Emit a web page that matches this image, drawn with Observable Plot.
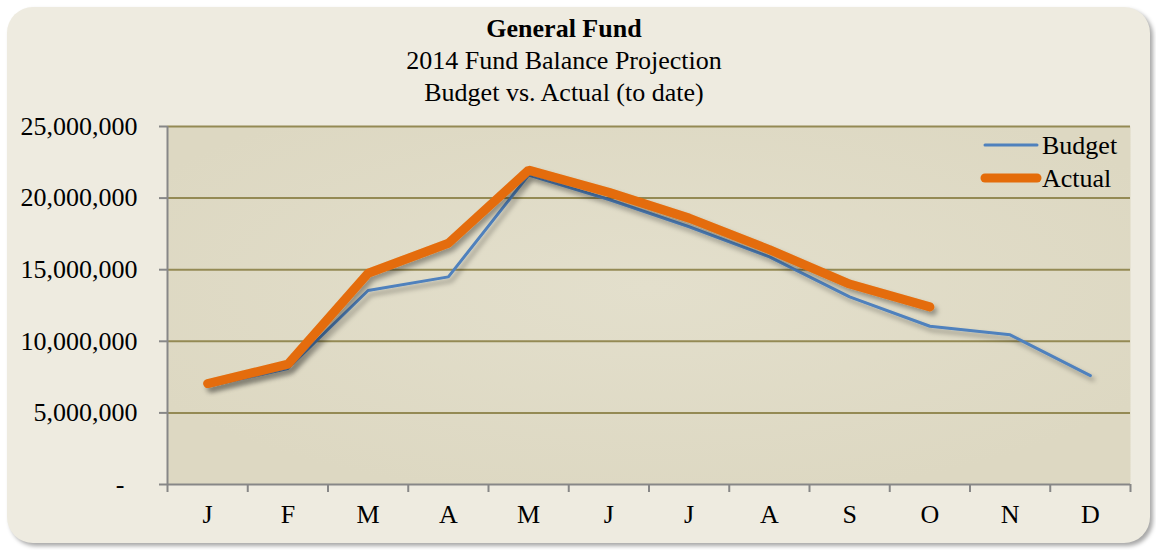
<!DOCTYPE html>
<html>
<head>
<meta charset="utf-8">
<script src="https://cdn.jsdelivr.net/npm/d3@7"></script>
<script src="https://cdn.jsdelivr.net/npm/@observablehq/plot@0.6"></script>
<style>
  html, body { margin: 0; padding: 0; background: #ffffff; }
  body { width: 1156px; height: 550px; position: relative; overflow: hidden; font-family: "Liberation Serif", "Times New Roman", serif; }
  #card { position: absolute; left: 7px; top: 7px; width: 1143px; height: 536px; border-radius: 26px; background: #eeebe0; box-shadow: 3px 3px 4px rgba(0,0,0,0.35); }
  #title { position: absolute; left: 0; top: 12.5px; width: 1128px; text-align: center; font-size: 26px; line-height: 32px; color: #000; }
  #title .main { font-weight: bold; }
  #chart { position: absolute; left: 0; top: 110px; }
  #legend { position: absolute; left: 975px; top: 128px; }
</style>
</head>
<body>
<div id="card"></div>
<div id="title">
  <div class="main">General Fund</div>
  <div>2014 Fund Balance Projection</div>
  <div>Budget vs. Actual (to date)</div>
</div>
<div id="chart"></div>
<div id="legend"></div>
<script>
// ---- data ----
const months = ["J","F","M","A","M","J","J","A","S","O","N","D"];
const budget = [6850000, 8100000, 13550000, 14500000, 21600000, 19900000, 18000000, 15900000, 13100000, 11050000, 10450000, 7600000];
const actual = [7050000, 8400000, 14750000, 16850000, 21950000, 20400000, 18600000, 16400000, 14000000, 12400000];
const yTicks = [0, 5000000, 10000000, 15000000, 20000000, 25000000];
const gridValues = [5000000, 10000000, 15000000, 20000000, 25000000];
const seriesNames = ["Budget", "Actual"];
const seriesColors = ["#4f81bd", "#e46c0a"];

const idx = months.map((_, i) => i);
const boundaries = d3.range(months.length + 1).map(i => i - 0.5);
const budgetData = budget.map((v, i) => ({i, v}));
const actualData = actual.map((v, i) => ({i, v}));
const fmt = d3.format(",");

const plot = Plot.plot({
  width: 1156,
  height: 440,
  marginLeft: 167,
  marginRight: 26,
  marginTop: 16,
  marginBottom: 66,
  x: {type: "linear", domain: [-0.5, months.length - 0.5], axis: null},
  y: {domain: [0, 25000000], axis: null},
  style: {background: "transparent", fontFamily: "'Liberation Serif', 'Times New Roman', serif", fontSize: "26px", color: "#000", overflow: "visible"},
  marks: [
    Plot.frame({fill: "url(#plotbg)", stroke: null}),
    Plot.ruleY(gridValues, {stroke: "#948a54", strokeWidth: 2}),
    Plot.ruleY([0], {stroke: "#878787", strokeWidth: 2}),
    Plot.ruleX([-0.5], {stroke: "#878787", strokeWidth: 2}),
    Plot.axisY({ticks: yTicks, tickSize: 8, tickPadding: 22, label: null,
      tickFormat: d => d === 0 ? "-\u2002" : fmt(d),
      stroke: "#878787", strokeWidth: 2, fill: "#000", fontSize: 26}),
    Plot.axisX({ticks: boundaries, tickSize: 8, label: null, tickFormat: () => "",
      stroke: "#878787", strokeWidth: 2}),
    Plot.axisX({ticks: idx, tickSize: 0, tickPadding: 20, label: null,
      tickFormat: i => months[i], fill: "#000", fontSize: 26}),
    Plot.line(budgetData, {x: "i", y: "v", stroke: seriesColors[0], strokeWidth: 3, strokeLinejoin: "miter", strokeLinecap: "round"}),
    Plot.line(actualData, {x: "i", y: "v", stroke: seriesColors[1], strokeWidth: 9, strokeLinejoin: "miter", strokeLinecap: "round"})
  ]
});

// gradient + shadow defs
const svg = d3.select(plot);
const defs = svg.insert("defs", ":first-child");
const g = defs.append("radialGradient").attr("id", "plotbg").attr("cx", "50%").attr("cy", "45%").attr("r", "60%");
g.append("stop").attr("offset", "0%").attr("stop-color", "#e3dfcc");
g.append("stop").attr("offset", "100%").attr("stop-color", "#ddd8c2");
const f = defs.append("filter").attr("id", "shadow").attr("x", "-10%").attr("y", "-10%").attr("width", "120%").attr("height", "130%");
f.append("feDropShadow").attr("dx", 3).attr("dy", 4).attr("stdDeviation", 2.5).attr("flood-color", "#000").attr("flood-opacity", 0.35);
svg.selectAll("g[aria-label='line']").attr("filter", "url(#shadow)");

document.getElementById("chart").appendChild(plot);

// legend
const lg = d3.select("#legend").append("svg").attr("width", 170).attr("height", 70);
seriesNames.forEach((name, k) => {
  const cy = 17 + k * 33;
  lg.append("line").attr("x1", 10).attr("x2", 62).attr("y1", cy).attr("y2", cy)
    .attr("stroke", seriesColors[k]).attr("stroke-width", k === 0 ? 3 : 9).attr("stroke-linecap", "round");
  lg.append("text").attr("x", 67).attr("y", cy + 9).text(name)
    .attr("font-family", "'Liberation Serif', 'Times New Roman', serif").attr("font-size", 26).attr("fill", "#000");
});
</script>
</body>
</html>
